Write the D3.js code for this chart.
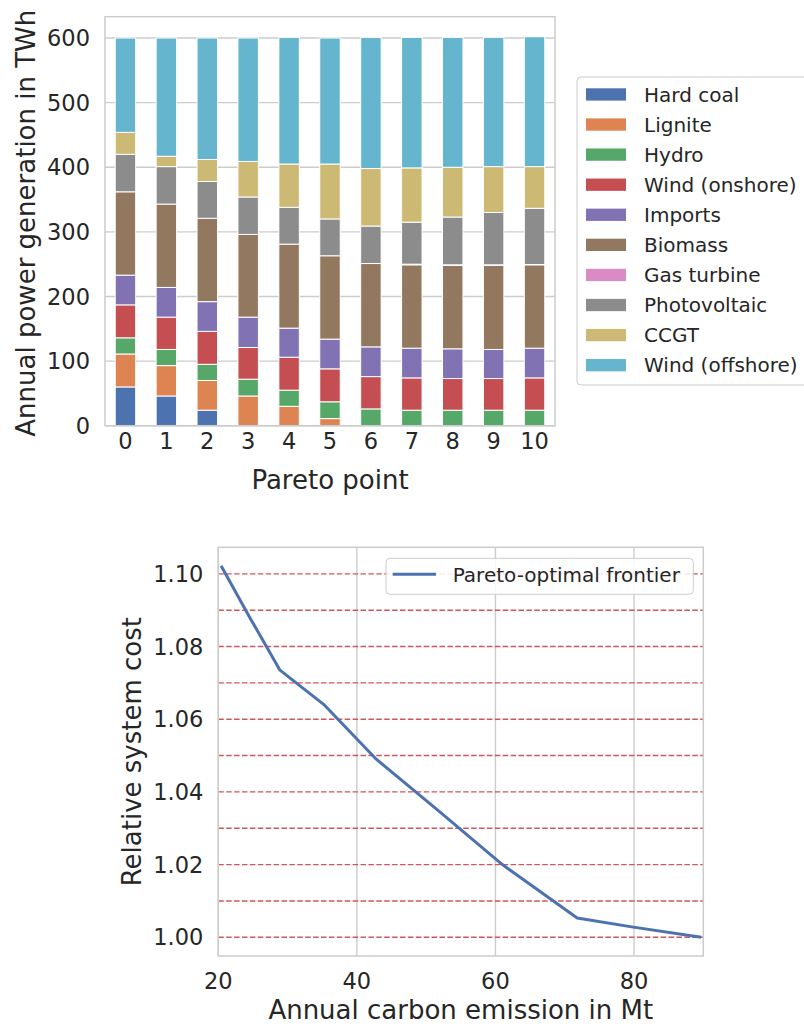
<!DOCTYPE html>
<html>
<head>
<meta charset="utf-8">
<script src="https://cdn.jsdelivr.net/npm/d3@7"></script>
<style>
  html, body { margin: 0; padding: 0; background: #fff; }
  svg { display: block; font-family: "DejaVu Sans", sans-serif; }
  text { fill: #262626; }
</style>
</head>
<body>
<svg id="chart" width="804" height="1026"></svg>
<script>
// ---------- Data ----------
const paretoPoints = [0, 1, 2, 3, 4, 5, 6, 7, 8, 9, 10];
const technologies = ["Hard coal", "Lignite", "Hydro", "Wind (onshore)", "Imports",
  "Biomass", "Gas turbine", "Photovoltaic", "CCGT", "Wind (offshore)"];
const techColors = ["#4C72B0", "#DD8452", "#55A868", "#C44E52", "#8172B3",
  "#937860", "#DA8BC3", "#8C8C8C", "#CCB974", "#64B5CD"];

const hardCoal   = [60, 46, 24, 0, 0, 0, 0, 0, 0, 0, 0];
const lignite    = [51, 47, 46, 46, 30, 11, 0, 0, 0, 0, 0];
const hydro      = [25, 25, 25, 26, 25, 26, 26, 24, 24, 24, 24];
const windOn     = [51, 50, 51, 49, 51, 51, 50, 50, 49, 49, 50];
const imports    = [46, 46, 46, 47, 45, 46, 46, 46, 46, 45, 46];
const biomass    = [129, 129, 129, 128, 130, 129, 129, 129, 129, 130, 129];
const gasTurbine = [0, 0, 0, 0, 0, 0, 0, 1, 1, 1, 0.5];
const photovolt  = [58, 58, 57, 58, 57, 57, 58, 65, 74, 81, 87];
const ccgt       = [34, 16, 34, 55, 67, 85, 89, 84, 77, 71, 64.5];
const windOff    = [146, 183, 188, 191, 196, 195, 203, 202, 201, 200, 201];
const seriesValues = [hardCoal, lignite, hydro, windOn, imports, biomass,
  gasTurbine, photovolt, ccgt, windOff];
const yTicksTop = [0, 100, 200, 300, 400, 500, 600];

const emission = [20.4, 24.6, 28.9, 35.2, 42.8, 51.8, 61.0, 71.8, 79.9, 89.7];
const relCost  = [1.1022, 1.0878, 1.0735, 1.0641, 1.0490, 1.0348, 1.0200, 1.0053, 1.0028, 1.0000];
const xTicksBottom = [20, 40, 60, 80];
const yTicksBottom = [1.00, 1.02, 1.04, 1.06, 1.08, 1.10];
const refLevels = [1.00, 1.01, 1.02, 1.03, 1.04, 1.05, 1.06, 1.07, 1.08, 1.09, 1.10];

// ---------- Setup ----------
const svg = d3.select("#chart");
const gridColor = "#cccccc";
const tickFont = 22.5, labelFont = 26, legendFont = 20;

// ---------- Top chart: stacked bars ----------
const T = { left: 105, right: 555, top: 16.7, bottom: 425.7 };
const xTop = d3.scaleBand().domain(paretoPoints).range([T.left, T.right])
  .paddingInner(0.5).paddingOuter(0.25);
const yTop = d3.scaleLinear().domain([0, 633]).range([T.bottom, T.top]);

const rows = paretoPoints.map((p, i) => {
  const r = { point: p };
  technologies.forEach((t, k) => r[t] = seriesValues[k][i]);
  return r;
});
const stacked = d3.stack().keys(technologies)(rows);

const gTop = svg.append("g");
// grid
gTop.append("g").selectAll("line").data(yTicksTop).join("line")
  .attr("x1", T.left).attr("x2", T.right)
  .attr("y1", d => yTop(d)).attr("y2", d => yTop(d))
  .attr("stroke", gridColor).attr("stroke-width", 1.4);
// bars
gTop.append("g").selectAll("g").data(stacked).join("g")
  .attr("fill", (d, i) => techColors[i])
  .selectAll("rect").data(d => d).join("rect")
  .attr("x", d => xTop(d.data.point))
  .attr("width", xTop.bandwidth())
  .attr("y", d => yTop(d[1]))
  .attr("height", d => Math.max(0, yTop(d[0]) - yTop(d[1])))
  .attr("stroke", d => (d[1] - d[0]) > 0 ? "#fff" : "none")
  .attr("stroke-width", 1);
// frame
gTop.append("rect").attr("x", T.left).attr("y", T.top)
  .attr("width", T.right - T.left).attr("height", T.bottom - T.top)
  .attr("fill", "none").attr("stroke", gridColor).attr("stroke-width", 1.5);
// y tick labels
gTop.append("g").selectAll("text").data(yTicksTop).join("text")
  .attr("x", T.left - 15).attr("y", d => yTop(d)).attr("dy", "0.36em")
  .attr("text-anchor", "end").attr("font-size", tickFont)
  .text(d => d);
// x tick labels
gTop.append("g").selectAll("text").data(paretoPoints).join("text")
  .attr("x", d => xTop(d) + xTop.bandwidth() / 2).attr("y", 448.5)
  .attr("text-anchor", "middle").attr("font-size", tickFont)
  .text(d => d);
// axis labels
gTop.append("text").attr("x", (T.left + T.right) / 2).attr("y", 489)
  .attr("text-anchor", "middle").attr("font-size", labelFont).text("Pareto point");
gTop.append("text").attr("transform", `translate(35,${(T.top + T.bottom) / 2 + 2}) rotate(-90)`)
  .attr("text-anchor", "middle").attr("font-size", labelFont)
  .text("Annual power generation in TWh");

// legend
const lgTop = svg.append("g");
lgTop.append("rect").attr("x", 577).attr("y", 77).attr("width", 240).attr("height", 308)
  .attr("rx", 4).attr("fill", "#fff").attr("fill-opacity", 0.8)
  .attr("stroke", gridColor).attr("stroke-width", 1);
const lgItems = lgTop.selectAll("g.item").data(technologies).join("g")
  .attr("transform", (d, i) => `translate(0,${94.3 + i * 30.08})`);
lgItems.append("rect").attr("x", 586).attr("y", -6).attr("width", 40).attr("height", 12.3)
  .attr("fill", (d, i) => techColors[i]);
lgItems.append("text").attr("x", 644).attr("y", 7.2).attr("font-size", legendFont)
  .text(d => d);

// ---------- Bottom chart: Pareto frontier ----------
const B = { left: 218.3, right: 703.3, top: 547.3, bottom: 956 };
const xB = d3.scaleLinear().domain([20, 90]).range([B.left, B.right]);
const yB = d3.scaleLinear().domain([0.99485, 1.1073]).range([B.bottom, B.top]);

const gB = svg.append("g");
gB.append("g").selectAll("line").data(xTicksBottom).join("line")
  .attr("x1", d => xB(d)).attr("x2", d => xB(d))
  .attr("y1", B.top).attr("y2", B.bottom)
  .attr("stroke", gridColor).attr("stroke-width", 1.4);
gB.append("g").selectAll("line").data(refLevels).join("line")
  .attr("x1", B.left).attr("x2", B.right)
  .attr("y1", d => yB(d)).attr("y2", d => yB(d))
  .attr("stroke", "#d0565a").attr("stroke-width", 1.4)
  .attr("stroke-dasharray", "5.5,2.4");
const lineGen = d3.line().x(d => xB(d[0])).y(d => yB(d[1]));
gB.append("path").datum(emission.map((e, i) => [e, relCost[i]]))
  .attr("d", lineGen).attr("fill", "none")
  .attr("stroke", "#4C72B0").attr("stroke-width", 3)
  .attr("stroke-linejoin", "round");
gB.append("rect").attr("x", B.left).attr("y", B.top)
  .attr("width", B.right - B.left).attr("height", B.bottom - B.top)
  .attr("fill", "none").attr("stroke", gridColor).attr("stroke-width", 1.5);
// ticks
gB.append("g").selectAll("text").data(yTicksBottom).join("text")
  .attr("x", B.left - 15).attr("y", d => yB(d)).attr("dy", "0.36em")
  .attr("text-anchor", "end").attr("font-size", tickFont)
  .text(d => d.toFixed(2));
gB.append("g").selectAll("text").data(xTicksBottom).join("text")
  .attr("x", d => xB(d)).attr("y", 989.3)
  .attr("text-anchor", "middle").attr("font-size", tickFont)
  .text(d => d);
gB.append("text").attr("x", (B.left + B.right) / 2).attr("y", 1019.3)
  .attr("text-anchor", "middle").attr("font-size", labelFont)
  .text("Annual carbon emission in Mt");
gB.append("text").attr("transform", `translate(141,${(B.top + B.bottom) / 2}) rotate(-90)`)
  .attr("text-anchor", "middle").attr("font-size", labelFont)
  .text("Relative system cost");
// legend
const lgB = svg.append("g");
lgB.append("rect").attr("x", 386).attr("y", 558.3).attr("width", 307.3).attr("height", 36)
  .attr("rx", 4).attr("fill", "#fff").attr("fill-opacity", 0.85)
  .attr("stroke", gridColor).attr("stroke-width", 1);
lgB.append("line").attr("x1", 392.7).attr("x2", 436).attr("y1", 574.3).attr("y2", 574.3)
  .attr("stroke", "#4C72B0").attr("stroke-width", 3);
lgB.append("text").attr("x", 452.7).attr("y", 581.7).attr("font-size", legendFont)
  .text("Pareto-optimal frontier");
</script>
</body>
</html>
